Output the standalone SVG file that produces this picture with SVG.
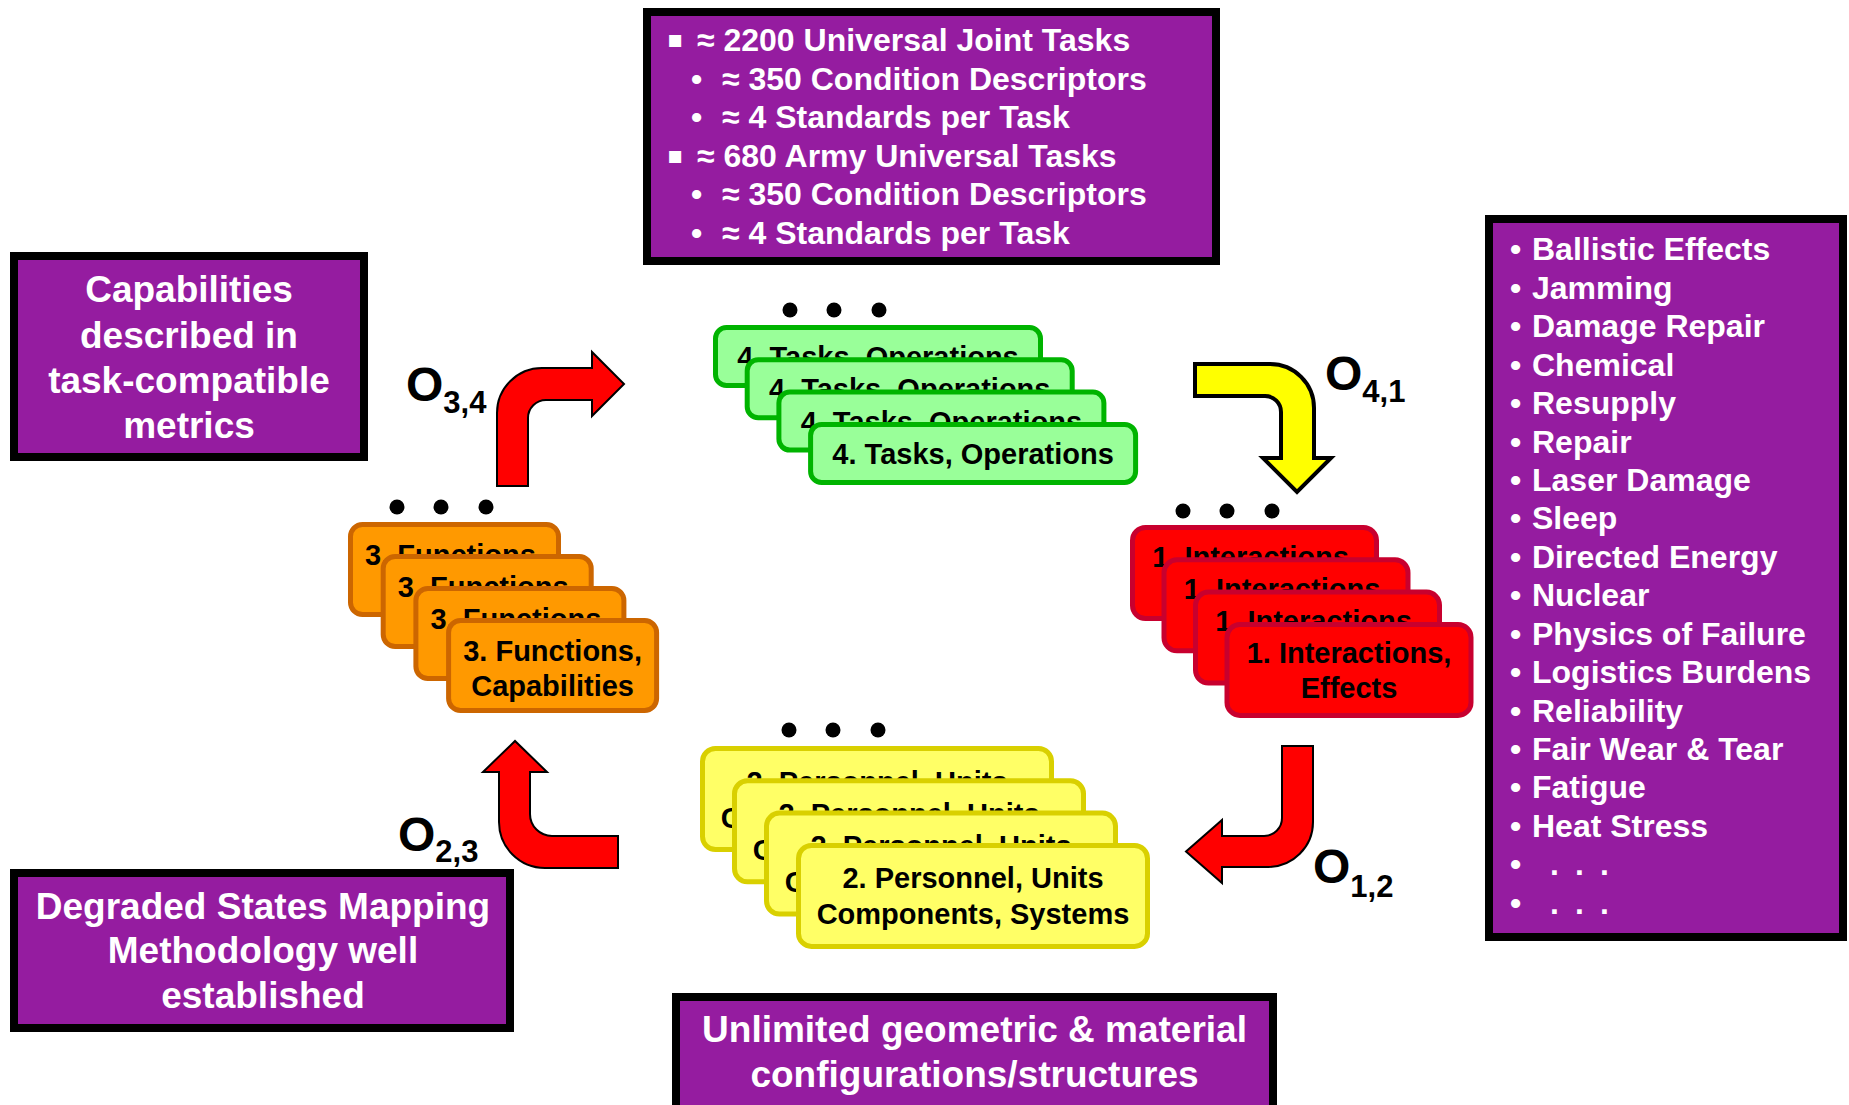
<svg xmlns="http://www.w3.org/2000/svg" width="1849" height="1105" viewBox="0 0 1849 1105">
  <defs>
    <style>
      .box{fill:#951CA0;stroke:#000;stroke-width:8}
      .wt{font-family:"Liberation Sans",Arial,sans-serif;font-weight:bold;fill:#fff}
      .bt{font-family:"Liberation Sans",Arial,sans-serif;font-weight:bold;fill:#000}
      .sq{font-family:"DejaVu Sans",sans-serif;font-size:24px}
      .card-text{font-family:"Liberation Sans",Arial,sans-serif;font-weight:bold;font-size:29px;fill:#000;text-anchor:middle}
      .green{fill:#99FF99;stroke:#00B400;stroke-width:5}
      .orange{fill:#FF9900;stroke:#CC6600;stroke-width:5}
      .red{fill:#FF0000;stroke:#C8002E;stroke-width:5}
      .yellow{fill:#FFFF66;stroke:#D9D000;stroke-width:5}
      .arrow-red{fill:#FF0000;stroke:#000;stroke-width:2;stroke-linejoin:miter}
      .arrow-yellow{fill:#FFFF00;stroke:#000;stroke-width:4;stroke-linejoin:miter}
      .dot{fill:#000}
    </style>
  </defs>
  <rect width="1849" height="1105" fill="#fff"/>

  <!-- Task catalogue box (top) -->
  <g id="box-tasks">
    <rect class="box" x="647" y="12" width="569" height="249"/>
    <g class="wt" font-size="32">
      <text y="51"><tspan class="sq" x="667" dy="-4">▪</tspan><tspan x="697" dy="4">≈ 2200 Universal Joint Tasks</tspan></text>
      <text y="89.5"><tspan x="691">•</tspan><tspan x="722">≈ 350 Condition Descriptors</tspan></text>
      <text y="128"><tspan x="691">•</tspan><tspan x="722">≈ 4 Standards per Task</tspan></text>
      <text y="166.5"><tspan class="sq" x="667" dy="-4">▪</tspan><tspan x="697" dy="4">≈ 680 Army Universal Tasks</tspan></text>
      <text y="205"><tspan x="691">•</tspan><tspan x="722">≈ 350 Condition Descriptors</tspan></text>
      <text y="243.5"><tspan x="691">•</tspan><tspan x="722">≈ 4 Standards per Task</tspan></text>
    </g>
  </g>

  <!-- Capabilities box (left) -->
  <g id="box-capabilities">
    <rect class="box" x="14" y="256" width="350" height="201"/>
    <g class="wt" font-size="37" text-anchor="middle">
      <text x="189" y="302">Capabilities</text>
      <text x="189" y="348">described in</text>
      <text x="189" y="393">task-compatible</text>
      <text x="189" y="438">metrics</text>
    </g>
  </g>

  <!-- Methodology box (bottom left) -->
  <g id="box-degraded">
    <rect class="box" x="14" y="873" width="496" height="155"/>
    <g class="wt" font-size="37" text-anchor="middle">
      <text x="263" y="919">Degraded States Mapping</text>
      <text x="263" y="963">Methodology well</text>
      <text x="263" y="1008">established</text>
    </g>
  </g>

  <!-- Configurations box (bottom centre) -->
  <g id="box-geometric">
    <rect class="box" x="676" y="997" width="597" height="130"/>
    <g class="wt" font-size="37" text-anchor="middle">
      <text x="974.5" y="1042">Unlimited geometric &amp; material</text>
      <text x="974.5" y="1087">configurations/structures</text>
    </g>
  </g>

  <!-- Effects list (right) -->
  <g id="box-effects">
    <rect class="box" x="1489" y="219" width="354" height="718"/>
    <g class="wt" font-size="32">
      <text y="260.3"><tspan x="1510">•</tspan><tspan x="1532">Ballistic Effects</tspan></text>
      <text y="298.7"><tspan x="1510">•</tspan><tspan x="1532">Jamming</tspan></text>
      <text y="337.2"><tspan x="1510">•</tspan><tspan x="1532">Damage Repair</tspan></text>
      <text y="375.6"><tspan x="1510">•</tspan><tspan x="1532">Chemical</tspan></text>
      <text y="414"><tspan x="1510">•</tspan><tspan x="1532">Resupply</tspan></text>
      <text y="452.5"><tspan x="1510">•</tspan><tspan x="1532">Repair</tspan></text>
      <text y="490.9"><tspan x="1510">•</tspan><tspan x="1532">Laser Damage</tspan></text>
      <text y="529.3"><tspan x="1510">•</tspan><tspan x="1532">Sleep</tspan></text>
      <text y="567.7"><tspan x="1510">•</tspan><tspan x="1532">Directed Energy</tspan></text>
      <text y="606.2"><tspan x="1510">•</tspan><tspan x="1532">Nuclear</tspan></text>
      <text y="644.6"><tspan x="1510">•</tspan><tspan x="1532">Physics of Failure</tspan></text>
      <text y="683"><tspan x="1510">•</tspan><tspan x="1532">Logistics Burdens</tspan></text>
      <text y="721.5"><tspan x="1510">•</tspan><tspan x="1532">Reliability</tspan></text>
      <text y="759.9"><tspan x="1510">•</tspan><tspan x="1532">Fair Wear &amp; Tear</tspan></text>
      <text y="798.3"><tspan x="1510">•</tspan><tspan x="1532">Fatigue</tspan></text>
      <text y="836.8"><tspan x="1510">•</tspan><tspan x="1532">Heat Stress</tspan></text>
      <text y="875.2"><tspan x="1510">•</tspan><tspan x="1550 1562 1575 1587 1600">. . .</tspan></text>
      <text y="913.6"><tspan x="1510">•</tspan><tspan x="1550 1562 1575 1587 1600">. . .</tspan></text>
    </g>
  </g>

  <!-- Stack 4: tasks / operations -->
  <g id="stack-tasks">
    <circle class="dot" cx="790" cy="310" r="7.5"/>
    <circle class="dot" cx="834" cy="310" r="7.5"/>
    <circle class="dot" cx="879" cy="310" r="7.5"/>
    <rect class="green" x="715.5" y="327.5" width="325" height="58" rx="11"/>
    <text class="card-text" x="878" y="367">4. Tasks, Operations</text>
    <rect class="green" x="747.2" y="359.8" width="325" height="58" rx="11"/>
    <text class="card-text" x="909.7" y="399.3">4. Tasks, Operations</text>
    <rect class="green" x="778.9" y="392.1" width="325" height="58" rx="11"/>
    <text class="card-text" x="941.4" y="431.6">4. Tasks, Operations</text>
    <rect class="green" x="810.6" y="424.4" width="325" height="58" rx="11"/>
    <text class="card-text" x="973.1" y="463.9">4. Tasks, Operations</text>
  </g>

  <!-- Stack 3: functions / capabilities (only the front card's second line shows) -->
  <g id="stack-functions">
    <circle class="dot" cx="397" cy="507" r="7.5"/>
    <circle class="dot" cx="441" cy="507" r="7.5"/>
    <circle class="dot" cx="486" cy="507" r="7.5"/>
    <rect class="orange" x="350.5" y="524.5" width="208" height="90" rx="12"/>
    <text class="card-text" x="454.5" y="564.5">3. Functions,</text>
    <rect class="orange" x="383.2" y="556.5" width="208" height="90" rx="12"/>
    <text class="card-text" x="487.2" y="596.5">3. Functions,</text>
    <rect class="orange" x="415.9" y="588.5" width="208" height="90" rx="12"/>
    <text class="card-text" x="519.9" y="628.5">3. Functions,</text>
    <rect class="orange" x="448.6" y="620.5" width="208" height="90" rx="12"/>
    <text class="card-text" x="552.6" y="660.5">3. Functions,</text>
    <text class="card-text" x="552.6" y="695.5">Capabilities</text>
  </g>

  <!-- Stack 1: interactions / effects -->
  <g id="stack-interactions">
    <circle class="dot" cx="1183" cy="511" r="7.5"/>
    <circle class="dot" cx="1227" cy="511" r="7.5"/>
    <circle class="dot" cx="1272" cy="511" r="7.5"/>
    <rect class="red" x="1132.5" y="527.5" width="244" height="91" rx="13"/>
    <text class="card-text" x="1254.5" y="566.5">1. Interactions,</text>
    <rect class="red" x="1164" y="559.8" width="244" height="91" rx="13"/>
    <text class="card-text" x="1286" y="598.8">1. Interactions,</text>
    <rect class="red" x="1195.5" y="592.1" width="244" height="91" rx="13"/>
    <text class="card-text" x="1317.5" y="631.1">1. Interactions,</text>
    <rect class="red" x="1227" y="624.4" width="244" height="91" rx="13"/>
    <text class="card-text" x="1349" y="663.4">1. Interactions,</text>
    <text class="card-text" x="1349" y="698.4">Effects</text>
  </g>

  <!-- Stack 2: personnel / components -->
  <g id="stack-personnel">
    <circle class="dot" cx="789" cy="730" r="7.5"/>
    <circle class="dot" cx="833" cy="730" r="7.5"/>
    <circle class="dot" cx="878" cy="730" r="7.5"/>
    <rect class="yellow" x="702.5" y="748.5" width="349" height="101" rx="13"/>
    <text class="card-text" x="877" y="791.5">2. Personnel, Units</text>
    <text class="card-text" x="877" y="827.5">Components, Systems</text>
    <rect class="yellow" x="734.5" y="780.8" width="349" height="101" rx="13"/>
    <text class="card-text" x="909" y="823.8">2. Personnel, Units</text>
    <text class="card-text" x="909" y="859.8">Components, Systems</text>
    <rect class="yellow" x="766.5" y="813.1" width="349" height="101" rx="13"/>
    <text class="card-text" x="941" y="856.1">2. Personnel, Units</text>
    <text class="card-text" x="941" y="892.1">Components, Systems</text>
    <rect class="yellow" x="798.5" y="845.4" width="349" height="101" rx="13"/>
    <text class="card-text" x="973" y="888.4">2. Personnel, Units</text>
    <text class="card-text" x="973" y="924.4">Components, Systems</text>
  </g>

  <!-- Transition arrows with their operator labels -->
  <g id="connectors">
    <path id="o34" class="arrow-red" d="M497,486 V413 A45,45 0 0 1 542,368 H592 V352 L624,384 L592,416 V400 H546 A18,18 0 0 0 528,418 V486 Z"/>
    <path id="o41" class="arrow-yellow" d="M1195,364 H1270 A44,44 0 0 1 1314,408 V458 H1331 L1297,492 L1263,458 H1281 V412 A16,16 0 0 0 1265,396 H1195 Z"/>
    <path id="o12" class="arrow-red" d="M1282,746 H1313 V822 A45,45 0 0 1 1268,867 H1222 V883 L1186,851.5 L1222,820 V836 H1264 A18,18 0 0 0 1282,818 Z"/>
    <path id="o23" class="arrow-red" d="M618,836 H552 A22,22 0 0 1 530,814 V772 H547 L515,741 L483,772 H499 V822 A46,46 0 0 0 545,868 H618 Z"/>
    <text class="bt" x="406" y="401" font-size="48">O<tspan font-size="31" dy="12">3,4</tspan></text>
    <text class="bt" x="1325" y="390" font-size="48">O<tspan font-size="31" dy="12">4,1</tspan></text>
    <text class="bt" x="398" y="851" font-size="48">O<tspan font-size="31" dy="11">2,3</tspan></text>
    <text class="bt" x="1313" y="883" font-size="48">O<tspan font-size="31" dy="14">1,2</tspan></text>
  </g>
</svg>
